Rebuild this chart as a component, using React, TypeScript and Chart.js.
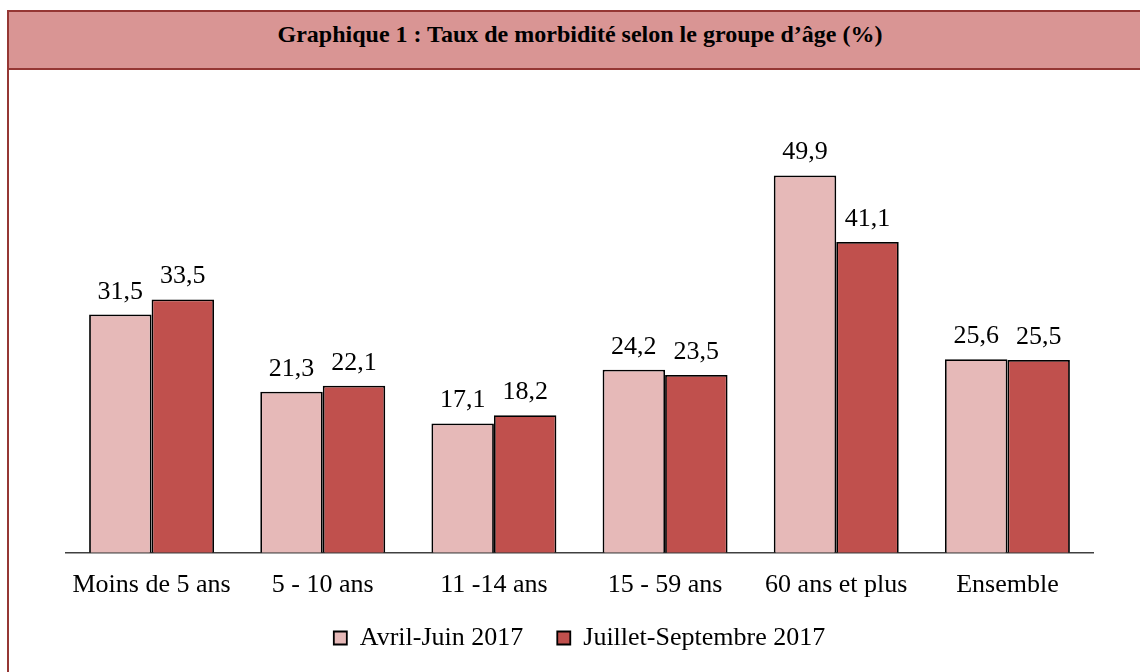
import React, { useEffect, useRef } from "react";
import { Chart, registerables } from "chart.js";

Chart.register(...registerables);

const categories = ["Moins de 5 ans", "5 - 10 ans", "11 -14 ans", "15 - 59 ans", "60 ans et plus", "Ensemble"];
const avrilJuin = [31.5, 21.3, 17.1, 24.2, 49.9, 25.6];
const juilletSept = [33.5, 22.1, 18.2, 23.5, 41.1, 25.5];
const seriesNames = ["Avril-Juin 2017", "Juillet-Septembre 2017"];
const titleText = "Graphique 1 : Taux de morbidité selon le groupe d’âge (%)";

const FONT = "'Liberation Serif', 'Times New Roman', serif";

const labelPlugin = {
  id: "valueLabels",
  afterLayout(chart: any) {
    // let the (overlapping) x tick labels draw below the shortened scale box
    const x = chart.scales.x;
    if (x) x.bottom = chart.height;
  },
  afterDatasetsDraw(chart: any) {
    const ctx = chart.ctx;
    ctx.save();
    ctx.font = `26px ${FONT}`;
    ctx.fillStyle = "#000";
    ctx.textAlign = "center";
    ctx.textBaseline = "alphabetic";
    chart.data.datasets.forEach((ds: any, i: number) => {
      const meta = chart.getDatasetMeta(i);
      meta.data.forEach((bar: any, j: number) => {
        const v = ds.data[j] as number;
        ctx.fillText(v.toFixed(1).replace(".", ","), bar.x, bar.y - 16);
      });
    });
    ctx.restore();
  },
};

export default function App() {
  const ref = useRef<HTMLCanvasElement>(null);
  useEffect(() => {
    document.body.style.margin = "0";
    document.body.style.overflow = "hidden";
    const chart = new Chart(ref.current!, {
      type: "bar",
      data: {
        labels: categories,
        datasets: [
          {
            label: seriesNames[0],
            data: avrilJuin,
            backgroundColor: "#E6B9B8",
            borderColor: "#000",
            borderWidth: 1.8,
            categoryPercentage: 0.73,
            barPercentage: 1,
          },
          {
            label: seriesNames[1],
            data: juilletSept,
            backgroundColor: "#C0504D",
            borderColor: "#000",
            borderWidth: 1.8,
            categoryPercentage: 0.73,
            barPercentage: 1,
          },
        ],
      },
      options: {
        animation: false,
        responsive: false,
        maintainAspectRatio: false,
        layout: { padding: { left: 57, right: 46, top: 28, bottom: 11 } },
        scales: {
          x: {
            grid: { display: false, drawTicks: false },
            border: { display: true, color: "#404040", width: 1.5 },
            ticks: { font: { family: FONT, size: 26 }, color: "#000", padding: 17 },
            afterFit: (scale: any) => {
              scale.height -= 27;
            },
          },
          y: {
            display: false,
            min: 0,
            max: 60,
          },
        },
        plugins: {
          legend: {
            position: "bottom",
            labels: {
              font: { family: FONT, size: 26 },
              color: "#000",
              boxWidth: 13,
              boxHeight: 13,
              padding: 34,
            },
          },
          tooltip: { enabled: false },
        },
      },
      plugins: [labelPlugin],
    });
    return () => chart.destroy();
  }, []);

  return (
    <div style={{ position: "fixed", left: 0, top: 0, width: 1140, height: 672, overflow: "hidden", background: "#fff" }}>
      <div
        style={{
          position: "absolute",
          left: 7,
          top: 10,
          width: 1146,
          height: 720,
          border: "2px solid #953734",
          boxSizing: "border-box",
        }}
      >
        <div
          style={{
            position: "relative",
            height: 58,
            background: "#D99594",
            borderBottom: "2px solid #953734",
            boxSizing: "border-box",
          }}
        >
          <div
            style={{
              position: "absolute",
              left: 0,
              right: 0,
              top: 9,
              textAlign: "center",
              lineHeight: "26px",
              fontFamily: FONT,
              fontWeight: "bold",
              fontSize: 24,
              color: "#000",
              whiteSpace: "nowrap",
            }}
          >
            {titleText}
          </div>
        </div>
      </div>
      <canvas
        ref={ref}
        width={1130}
        height={601}
        style={{ position: "absolute", left: 9, top: 71, width: 1130, height: 601 }}
      />
    </div>
  );
}
